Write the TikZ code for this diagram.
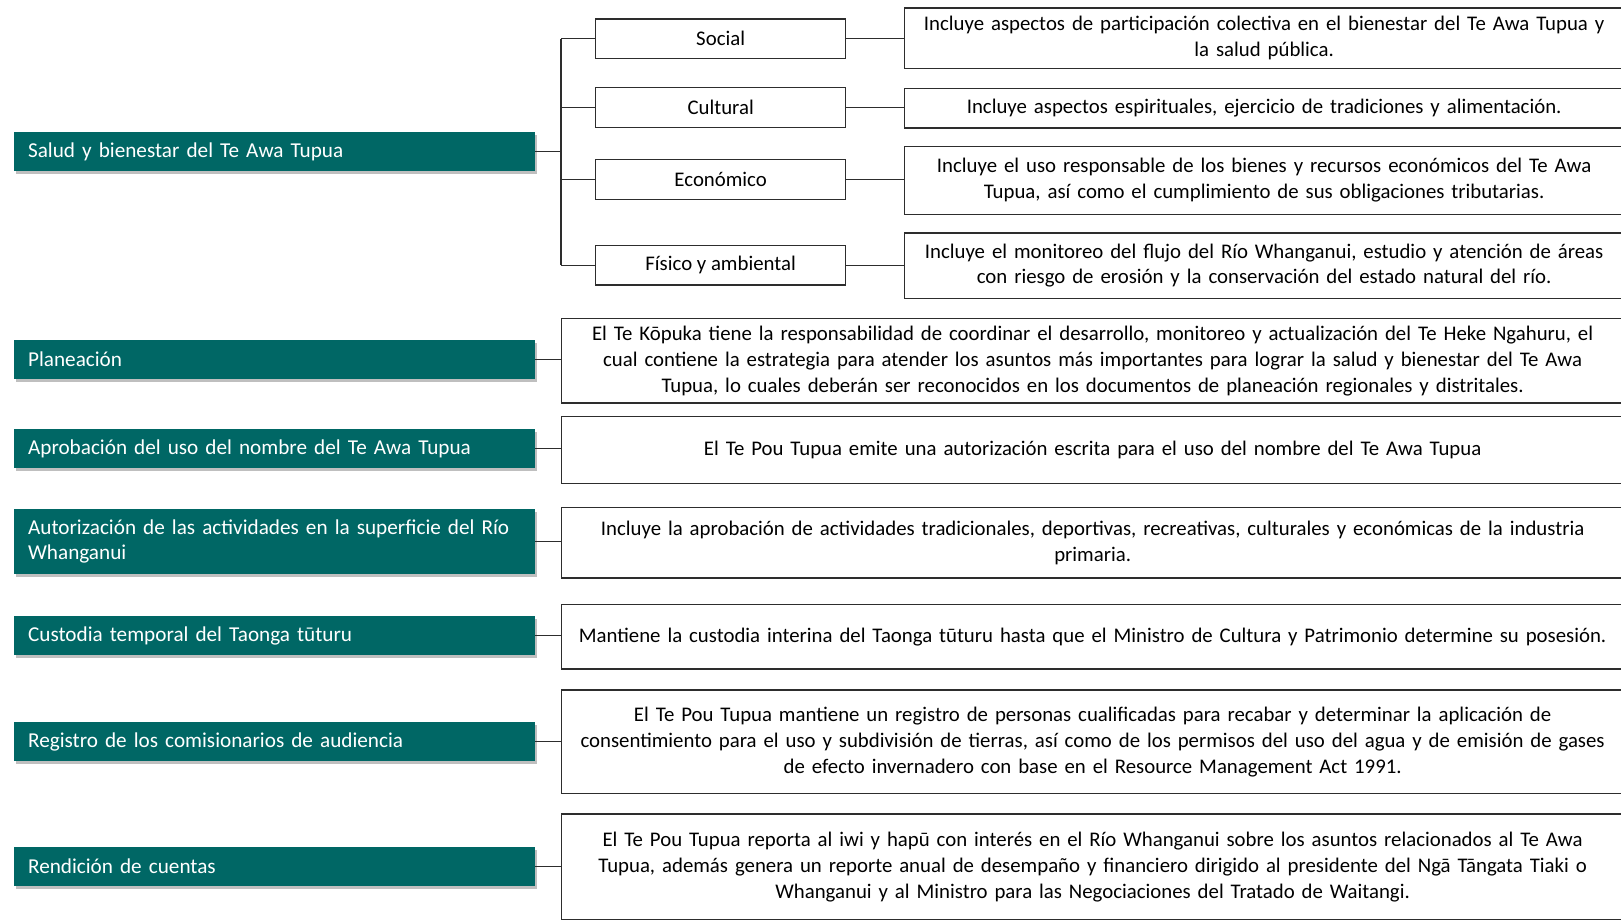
\documentclass[tikz,border=0pt]{standalone}
\usepackage{fontspec}
\setmainfont{Carlito}
\usetikzlibrary{shadows}
\definecolor{tealbox}{RGB}{0,103,101}
\definecolor{linec}{RGB}{45,45,45}
\begin{document}
\begin{tikzpicture}[x=1pt,y=-1pt,
  font=\fontsize{20.8}{25.8}\selectfont,
  greenbox/.style={fill=tealbox, text=white, anchor=west, minimum width=520.4pt,
    text width=493pt, inner xsep=13.7pt, inner ysep=0pt, align=left, minimum height=39pt,
    font=\fontsize{21.2}{25.8}\selectfont,
    drop shadow={shadow xshift=2pt, shadow yshift=-3pt, opacity=0.25, fill=black}},
  catbox/.style={draw=linec, line width=1.3pt, minimum width=250pt, minimum height=39.5pt,
    anchor=west, inner sep=0pt},
  descbox/.style={draw=linec, line width=1.3pt, anchor=north west, align=center,
    inner xsep=0pt, inner ysep=0pt},
  topdesc/.style={descbox, minimum width=719pt, text width=719pt},
  lowdesc/.style={descbox, minimum width=1062pt, text width=1062pt},
  conn/.style={draw=linec, line width=1.3pt}]
\useasboundingbox (0,0) rectangle (1621,919);

% left green boxes
\node[greenbox] (g1) at (14.2,151.7) {Salud y bienestar del Te Awa Tupua};
\node[greenbox] (g2) at (14.2,359.2) {Planeación};
\node[greenbox] (g3) at (14.2,448.5) {Aprobación del uso del nombre del Te Awa Tupua};
\node[greenbox, minimum height=65pt] (g4) at (14.2,541.5) {Autorización de las actividades en la superficie del Río\\Whanganui};
\node[greenbox] (g5) at (14.2,635.5) {Custodia temporal del Taonga tūturu};
\node[greenbox] (g6) at (14.2,741.7) {Registro de los comisionarios de audiencia};
\node[greenbox] (g7) at (14.2,866.7) {Rendición de cuentas};

% category boxes
\node[catbox] (social) at (595,38.7) {Social};
\node[catbox] (cultural) at (595,107.5) {Cultural};
\node[catbox] (economico) at (595,179.5) {Económico};
\node[catbox] (fisico) at (595,265.3) {Físico y ambiental};

% top descriptions
\node[topdesc, minimum height=60.4pt] (d1) at (904,7.3)
  {Incluye aspectos de participación colectiva en el bienestar del Te Awa Tupua y\\la salud pública.};
\node[topdesc, minimum height=39.6pt] (d2) at (904,87.7)
  {Incluye aspectos espirituales, ejercicio de tradiciones y alimentación.};
\node[topdesc, minimum height=68pt] (d3) at (904,145.7)
  {Incluye el uso responsable de los bienes y recursos económicos del Te Awa\\Tupua, así como el cumplimiento de sus obligaciones tributarias.};
\node[topdesc, minimum height=65.4pt] (d4) at (904,232.3)
  {Incluye el monitoreo del flujo del Río Whanganui, estudio y atención de áreas\\con riesgo de erosión y la conservación del estado natural del río.};

% lower descriptions
\node[lowdesc, minimum height=84.3pt] (p) at (561,318)
  {El Te Kōpuka tiene la responsabilidad de coordinar el desarrollo, monitoreo y actualización del Te Heke Ngahuru, el\\cual contiene la estrategia para atender los asuntos más importantes para lograr la salud y bienestar del Te Awa\\Tupua, lo cuales deberán ser reconocidos en los documentos de planeación regionales y distritales.};
\node[lowdesc, minimum height=67pt] (a) at (561,415.7)
  {El Te Pou Tupua emite una autorización escrita para el uso del nombre del Te Awa Tupua};
\node[lowdesc, minimum height=70.6pt] (au) at (561,506.7)
  {Incluye la aprobación de actividades tradicionales, deportivas, recreativas, culturales y económicas de la industria\\primaria.};
\node[lowdesc, minimum height=64.3pt] (c) at (561,604)
  {Mantiene la custodia interina del Taonga tūturu hasta que el Ministro de Cultura y Patrimonio determine su posesión.};
\node[lowdesc, minimum height=103.7pt] (r) at (561,689.3)
  {El Te Pou Tupua mantiene un registro de personas cualificadas para recabar y determinar la aplicación de\\consentimiento para el uso y subdivisión de tierras, así como de los permisos del uso del agua y de emisión de gases\\de efecto invernadero con base en el Resource Management Act 1991.};
\node[lowdesc, minimum height=106pt] (re) at (561,813.3)
  {El Te Pou Tupua reporta al iwi y hapū con interés en el Río Whanganui sobre los asuntos relacionados al Te Awa\\Tupua, además genera un reporte anual de desempaño y financiero dirigido al presidente del Ngā Tāngata Tiaki o\\Whanganui y al Ministro para las Negociaciones del Tratado de Waitangi.};

% tree connectors
\coordinate (bus) at (561,0);
\draw[conn] (g1.east) -- (g1.east -| bus);
\draw[conn] (social.west -| bus) -- (fisico.west -| bus);
\foreach \n in {social,cultural,economico,fisico}
  \draw[conn] (\n.west -| bus) -- (\n.west);
\draw[conn] (social.east) -- (social.east -| d1.west);
\draw[conn] (cultural.east) -- (cultural.east -| d2.west);
\draw[conn] (economico.east) -- (economico.east -| d3.west);
\draw[conn] (fisico.east) -- (fisico.east -| d4.west);

% green to description connectors
\draw[conn] (g2.east) -- (g2.east -| p.west);
\draw[conn] (g3.east) -- (g3.east -| a.west);
\draw[conn] (g4.east) -- (g4.east -| au.west);
\draw[conn] (g5.east) -- (g5.east -| c.west);
\draw[conn] (g6.east) -- (g6.east -| r.west);
\draw[conn] (g7.east) -- (g7.east -| re.west);
\end{tikzpicture}
\end{document}
